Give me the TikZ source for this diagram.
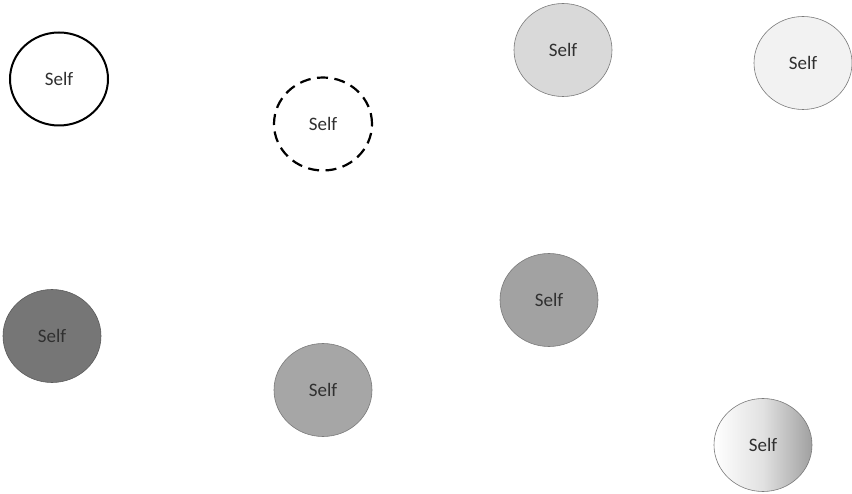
\documentclass[tikz,border=0pt]{standalone}
\usepackage{fontspec}
\setmainfont{Carlito}
\usetikzlibrary{shapes.geometric}
\definecolor{txt}{HTML}{303030}
\definecolor{edge}{HTML}{7A7A7A}
\tikzset{
  x=1pt,y=-1pt,
  selfnode/.style={ellipse,minimum width=98pt,minimum height=93pt,inner sep=0pt,
    font=\fontsize{19}{22}\selectfont,text=txt},
  grayedge/.style={draw=edge,line width=0.6pt},
}
\begin{document}
\begin{tikzpicture}
\useasboundingbox (0,0) rectangle (852,494);
\node[selfnode,draw=black,line width=2pt,fill=white] (a) at (59,79) {Self};
\node[selfnode,draw=black,line width=2.2pt,dash pattern=on 11pt off 6.5pt,fill=white] (b) at (323,124) {Self};
\node[selfnode,grayedge,fill={rgb,255:red,217;green,217;blue,217}] (c) at (563,50) {Self};
\node[selfnode,grayedge,fill={rgb,255:red,242;green,242;blue,242}] (d) at (803,63) {Self};
\node[selfnode,grayedge,draw={rgb,255:red,90;green,90;blue,90},fill={rgb,255:red,118;green,118;blue,118}] (e) at (52,336) {Self};
\node[selfnode,grayedge,fill={rgb,255:red,166;green,166;blue,166}] (f) at (323,390) {Self};
\node[selfnode,grayedge,fill={rgb,255:red,162;green,162;blue,162}] (g) at (549,300) {Self};
\node[selfnode,grayedge,left color=white,right color={rgb,255:red,160;green,160;blue,160},middle color={rgb,255:red,225;green,225;blue,225}] (h) at (763,445) {Self};
\end{tikzpicture}
\end{document}
